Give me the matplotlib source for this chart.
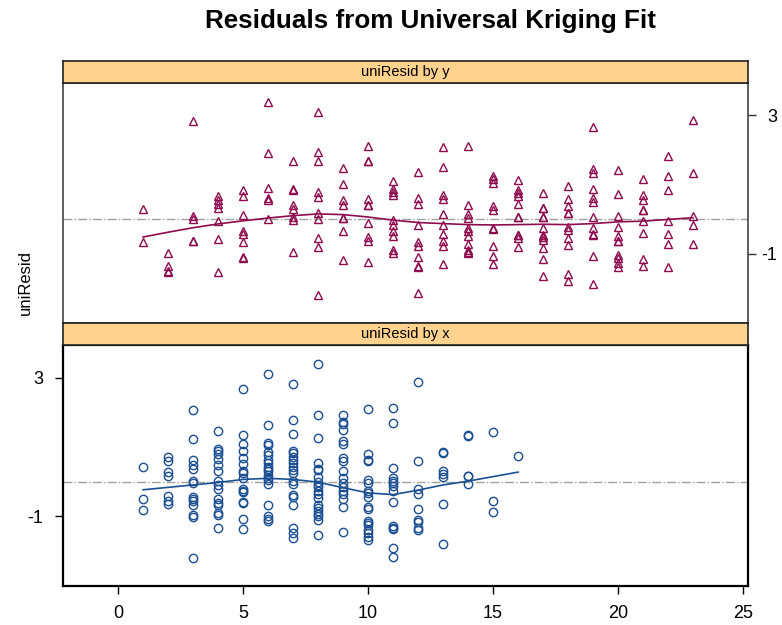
import numpy as np
import matplotlib
matplotlib.use("Agg")
import matplotlib.pyplot as plt

plt.rcParams['font.family'] = ['Liberation Sans', 'DejaVu Sans']
plt.rcParams['axes.unicode_minus'] = False

# residuals grouped by y coordinate (1..23)
resid_by_y = {
    1: [0.30, -0.65],
    2: [-0.99, -1.36, -1.50, -1.54],
    3: [2.85, 0.08, -0.01, -0.62, -0.64],
    4: [0.67, 0.56, 0.45, 0.32, -0.06, -0.58, -1.52],
    5: [0.83, 0.67, 0.13, -0.34, -0.42, -0.67, -1.10, -1.12],
    6: [3.40, 1.92, 0.90, 0.62, 0.56, -0.01],
    7: [1.68, 0.85, 0.86, 0.40, 0.28, 0.06, -0.03, -0.96],
    8: [3.10, 1.93, 1.69, 0.78, 0.64, 0.18, -0.01, -0.56, -0.80, -2.19],
    9: [1.47, 1.02, 0.54, 0.40, 0.02, 0.03, -0.34, -1.18],
    10: [2.13, 1.68, 1.69, 0.57, 0.40, 0.41, -0.10, -0.51, -0.64, -1.23],
    11: [1.09, 0.86, 0.78, 0.71, -0.03, -0.18, -0.34, -0.48, -0.89, -0.99],
    12: [1.36, 0.62, 0.43, -0.18, -0.66, -0.77, -1.09, -1.37, -1.39, -2.14],
    13: [2.08, 1.50, 0.71, 0.59, 0.16, -0.18, -0.42, -0.64, -0.78, -1.30],
    14: [2.11, 0.42, 0.16, 0.02, -0.25, -0.34, -0.49, -0.73, -0.89, -0.95, -0.97],
    15: [1.26, 1.17, 1.05, 0.38, 0.26, -0.26, -0.28, -0.78, -1.06, -1.30],
    16: [1.12, 0.83, 0.75, 0.67, 0.45, 0.05, 0.07, -0.45, -0.47, -0.56, -0.82],
    17: [0.76, 0.31, 0.33, 0.05, 0.07, -0.27, -0.46, -0.53, -0.61, -0.85, -1.16, -1.64],
    18: [0.95, 0.57, 0.37, 0.17, 0.19, -0.22, -0.32, -0.54, -0.75, -1.60, -1.79],
    19: [2.68, 1.44, 1.34, 0.86, 0.61, 0.50, 0.06, -0.27, -0.43, -0.45, -1.07, -1.87],
    20: [1.41, 0.74, 0.09, -0.22, -0.48, -0.62, -0.64, -1.04, -1.13, -1.28, -1.38],
    21: [1.17, 0.69, 0.54, 0.25, 0.27, -0.06, -0.41, -1.15, -1.35],
    22: [1.82, 1.26, 0.83, -0.06, -0.44, -0.73, -1.38],
    23: [2.87, 1.34, 0.09, -0.18, -0.73],
}

# residuals grouped by x coordinate (1..16)
resid_by_x = {
    1: [0.44, -0.50, -0.81],
    2: [0.73, 0.59, 0.27, 0.17, -0.42, -0.55, -0.65],
    3: [2.08, 1.23, 0.62, 0.49, 0.38, 0.01, -0.02, -0.45, -0.49, -0.55, -0.68, -0.97, -1.03, -2.21],
    4: [1.47, 0.94, 0.88, 0.80, 0.66, 0.49, 0.32, 0.01, -0.09, -0.20, -0.49, -0.62, -0.66, -0.91, -0.97, -1.32],
    5: [2.69, 1.34, 1.09, 0.88, 0.70, 0.51, 0.32, 0.25, 0.11, -0.20, -0.26, -0.30, -0.59, -0.62, -1.07, -1.37],
    6: [3.11, 1.63, 1.12, 1.05, 0.86, 0.78, 0.64, 0.54, 0.44, 0.38, 0.32, 0.20, 0.11, 0.06, -0.07, -0.66, -1.00, -1.07, -1.13],
    7: [2.82, 1.79, 1.39, 0.90, 0.83, 0.73, 0.64, 0.54, 0.44, 0.35, 0.25, 0.03, -0.07, -0.39, -0.45, -0.66, -1.34, -1.48, -1.61],
    8: [3.41, 1.92, 1.26, 0.54, 0.38, 0.35, 0.15, -0.01, -0.09, -0.16, -0.26, -0.36, -0.47, -0.66, -0.76, -0.84, -0.93, -1.00, -1.10, -1.53],
    9: [1.94, 1.72, 1.67, 1.50, 1.18, 1.09, 0.68, 0.59, 0.32, 0.11, -0.04, -0.16, -0.26, -0.36, -0.49, -0.74, -1.44],
    10: [2.10, 0.81, 0.64, 0.59, 0.06, -0.04, -0.26, -0.33, -0.45, -0.74, -0.78, -1.13, -1.19, -1.26, -1.39, -1.48, -1.58, -1.68],
    11: [2.13, 1.70, 0.39, 0.11, 0.03, -0.04, -0.13, -0.26, -0.57, -1.29, -1.32, -1.36, -1.90, -2.18],
    12: [2.87, 0.59, -0.20, -0.36, -0.78, -1.10, -1.17, -1.34, -1.39],
    13: [0.84, 0.86, 0.32, 0.22, 0.13, -0.65, -1.79],
    14: [1.32, 1.34, 0.16, 0.18, -0.07],
    15: [1.43, -0.55, -0.86],
    16: [0.76],
}

# loess smooth values at each coordinate
smooth_y_pos = list(range(1, 24))
smooth_y_val = [-0.52, -0.38, -0.25, -0.14, -0.05, 0.03, 0.10, 0.15, 0.13, 0.06, -0.03, -0.10,
                -0.13, -0.16, -0.17, -0.16, -0.15, -0.16, -0.13, -0.08, -0.06, -0.01, 0.04]
smooth_x_pos = list(range(1, 17))
smooth_x_val = [-0.23, -0.16, -0.09, -0.02, 0.07, 0.10, 0.07, -0.01, -0.17, -0.32,
                -0.37, -0.24, -0.09, 0.02, 0.15, 0.28]

x_ticks = [0, 5, 10, 15, 20, 25]
y_ticks = [-1, 3]

col_y = '#8E0B4E'
col_x = '#1B4F93'
strip_col = '#FFD28E'

fig = plt.figure(figsize=(7.82, 6.25), dpi=100)

left, width = 0.0806, 0.876
ax_top = fig.add_axes([left, 0.4837, width, 0.384])
strip_top = fig.add_axes([left, 0.8677, width, 0.0347])
ax_bot = fig.add_axes([left, 0.0629, width, 0.385])
strip_bot = fig.add_axes([left, 0.448, width, 0.0357])


def flatten(groups):
    xs, ys = [], []
    for k, vals in groups.items():
        xs.extend([k] * len(vals))
        ys.extend(vals)
    return np.array(xs), np.array(ys)


yy, ry = flatten(resid_by_y)
xx, rx = flatten(resid_by_x)

ax_top.plot(yy, ry, linestyle='none', marker='^', markersize=6.3, markerfacecolor='none',
            markeredgecolor=col_y, markeredgewidth=1.0)
ax_top.plot(smooth_y_pos, smooth_y_val, color=col_y, linewidth=1.2)

ax_bot.plot(xx, rx, linestyle='none', marker='o', markersize=6, markerfacecolor='none',
            markeredgecolor=col_x, markeredgewidth=1.0)
ax_bot.plot(smooth_x_pos, smooth_x_val, color=col_x, linewidth=1.2)

for ax in (ax_top, ax_bot):
    ax.axhline(0, color='#A0A0A0', linestyle='-.', linewidth=1.0, zorder=0)
    ax.set_xlim(-2.2, 25.2)
    ax.set_ylim(-3.0, 3.95)
    ax.set_xticks(x_ticks)
    ax.set_yticks(y_ticks)
    ax.tick_params(direction='out', length=6, width=1, labelsize=13, colors='black')

for sp in ax_top.spines.values():
    sp.set_color('#333333')
    sp.set_linewidth(1.1)
for sp in ax_bot.spines.values():
    sp.set_color('black')
    sp.set_linewidth(1.6)

# top panel: y ticks on the right, no x ticks
ax_top.tick_params(axis='x', bottom=False, labelbottom=False)
ax_top.tick_params(axis='y', left=False, labelleft=False, right=True, labelright=True,
                   pad=15, color='#333333')
for tick in ax_top.yaxis.get_major_ticks():
    tick.label2.set_horizontalalignment('right')
# bottom panel: y ticks on the left, x ticks below
ax_bot.tick_params(axis='y', left=True, labelleft=True, right=False, pad=8)
ax_bot.tick_params(axis='x', pad=8)

for strip, label in ((strip_top, 'uniResid by y'), (strip_bot, 'uniResid by x')):
    strip.set_facecolor(strip_col)
    strip.set_xticks([])
    strip.set_yticks([])
    for sp in strip.spines.values():
        sp.set_color('#222222')
        sp.set_linewidth(1.2)
    strip.text(0.5, 0.5, label, ha='center', va='center', fontsize=10.5,
               transform=strip.transAxes)

fig.text(0.032, 0.548, 'uniResid', rotation=90, ha='center', va='center', fontsize=12)
fig.text(0.55, 0.966, 'Residuals from Universal Kriging Fit', ha='center', va='center',
         fontsize=18.7, fontweight='bold')

fig.savefig('out.png', dpi=100)
